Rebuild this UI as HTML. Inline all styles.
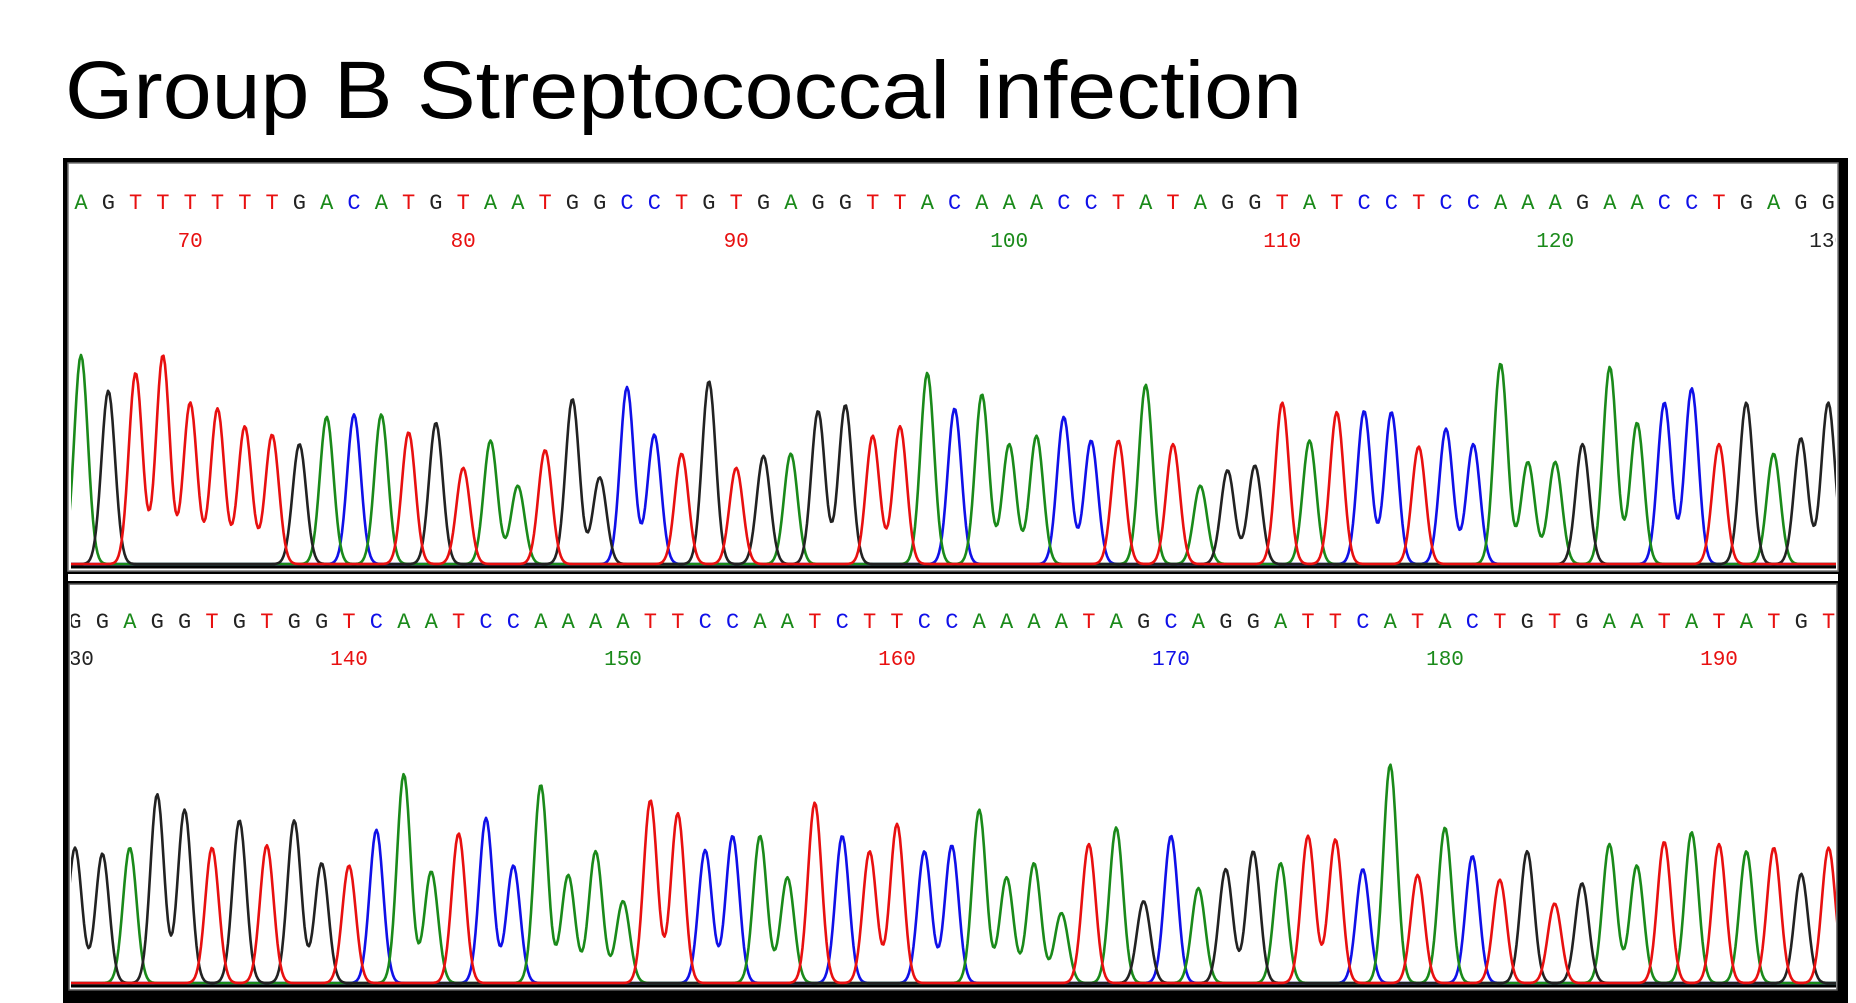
<!DOCTYPE html>
<html><head><meta charset="utf-8"><style>
html,body{margin:0;padding:0;background:#fff;}
svg{display:block;}
</style></head><body>
<svg id="chart" width="1856" height="1003" viewBox="0 0 1856 1003" xmlns="http://www.w3.org/2000/svg">
  <rect x="0" y="0" width="1856" height="1003" fill="#fff"/>
  <text x="65" y="118" font-family="Liberation Sans, sans-serif" font-size="82" fill="#000" textLength="1237" lengthAdjust="spacingAndGlyphs">Group B Streptococcal infection</text>
  <rect x="63" y="158" width="1785" height="845" fill="#000"/>
  <rect x="68" y="163" width="1770" height="408" fill="#fff" stroke="#777" stroke-width="1.5"/>
  <rect x="68" y="574" width="1770" height="7" fill="#fff"/>
  <rect x="69" y="584" width="1768" height="406" fill="#fff" stroke="#555" stroke-width="1.5"/>
  <line x1="71" y1="567" x2="1836" y2="567" stroke="#000" stroke-width="3"/>
  <line x1="71" y1="986" x2="1836" y2="986" stroke="#000" stroke-width="3"/>
  <defs>
    <clipPath id="clip1"><rect x="71" y="165" width="1765" height="401"/></clipPath>
    <clipPath id="clip2"><rect x="71" y="586" width="1765" height="399"/></clipPath>
  </defs>
  <g id="p1" clip-path="url(#clip1)"></g>
  <g id="p2" clip-path="url(#clip2)"></g>
</svg>
<script>
// Panel 1 data: bases 66..130
const seq1 = "AGTTTTTTGACATGTAATGGCCTGTGAGGTTACAAACCTATAGGTATCCTCCAAAGAACCTGAGG";
const start1 = 66;
const heights1 = [176,146,161,176,136,131,116,109,101,124,126,126,111,119,81,104,66,96,139,73,149,109,93,154,81,91,93,129,134,108,116,161,131,143,101,108,124,104,104,151,101,66,79,83,136,104,128,129,128,99,114,101,169,86,86,101,166,119,136,148,101,136,93,106,136];
const ticks1 = [70,80,90,100,110,120,130];
// Panel 2 data: bases 130..194
const seq2 = "GGAGGTGTGGTCAATCCAAAATTCCAATCTTCCAAAATAGCAGGATTCATACTGTGAATATATGT";
const start2 = 130;
const heights2 = [114,109,114,159,146,114,137,116,137,101,99,129,176,94,126,139,99,167,91,111,69,154,143,112,124,124,89,152,124,111,134,111,116,146,89,101,59,117,131,69,124,80,96,111,101,124,121,96,184,91,131,107,87,111,67,84,117,99,119,127,117,111,114,92,114];
const ticks2 = [130,140,150,160,170,180,190];

const COLORS = {A:"#1a8a1a", C:"#1010e8", G:"#222222", T:"#e81010"};
const NS = "http://www.w3.org/2000/svg";
const K = 1.1875;

function makePanel(g, seq, start, heights, ticks, x0, step, baseY, letterY, numY, prefix) {
  const xScale = p => x0 + (p - start) * step;
  const yScale = h => baseY - h * K;
  for (let i = 0; i < seq.length; i++) {
    const t = document.createElementNS(NS, "text");
    t.setAttribute("x", xScale(start + i));
    t.setAttribute("y", letterY);
    t.setAttribute("text-anchor", "middle");
    t.setAttribute("font-family", "Liberation Mono, monospace");
    t.setAttribute("font-size", "22");
    t.setAttribute("fill", COLORS[seq[i]]);
    t.textContent = seq[i];
    
    
    g.appendChild(t);
  }
  ticks.forEach(v => {
    const t = document.createElementNS(NS, "text");
    t.setAttribute("x", xScale(v));
    t.setAttribute("y", numY);
    t.setAttribute("text-anchor", "middle");
    t.setAttribute("font-family", "Liberation Mono, monospace");
    t.setAttribute("font-size", "21");
    t.setAttribute("fill", COLORS[seq[v - start]] || "#111");
    t.textContent = v;
    
    
    g.appendChild(t);
  });
  const sigma = 6.8;
  ["C", "A", "G", "T"].forEach(ch => {
    let d = "";
    for (let x = 60; x <= 1850; x += 1.5) {
      let h = 0;
      for (let i = 0; i < seq.length; i++) {
        if (seq[i] !== ch) continue;
        const dx = x - xScale(start + i);
        if (Math.abs(dx) > 40) continue;
        h += heights[i] * Math.exp(-dx * dx / (2 * sigma * sigma));
      }
      d += (d ? "L" : "M") + x.toFixed(1) + "," + yScale(h).toFixed(1);
    }
    const p = document.createElementNS(NS, "path");
    p.setAttribute("d", d);
    p.setAttribute("fill", "none");
    p.setAttribute("stroke", COLORS[ch]);
    p.setAttribute("stroke-width", "2.6");
    p.setAttribute("stroke-linejoin", "round");
    
    
    g.appendChild(p);
  });
}

makePanel(document.getElementById("p1"), seq1, start1, heights1, ticks1, 81, 27.3, 564, 209, 247, "panel-1");
makePanel(document.getElementById("p2"), seq2, start2, heights2, ticks2, 75, 27.4, 983, 628, 665, "panel-2");
</script>
</body></html>
